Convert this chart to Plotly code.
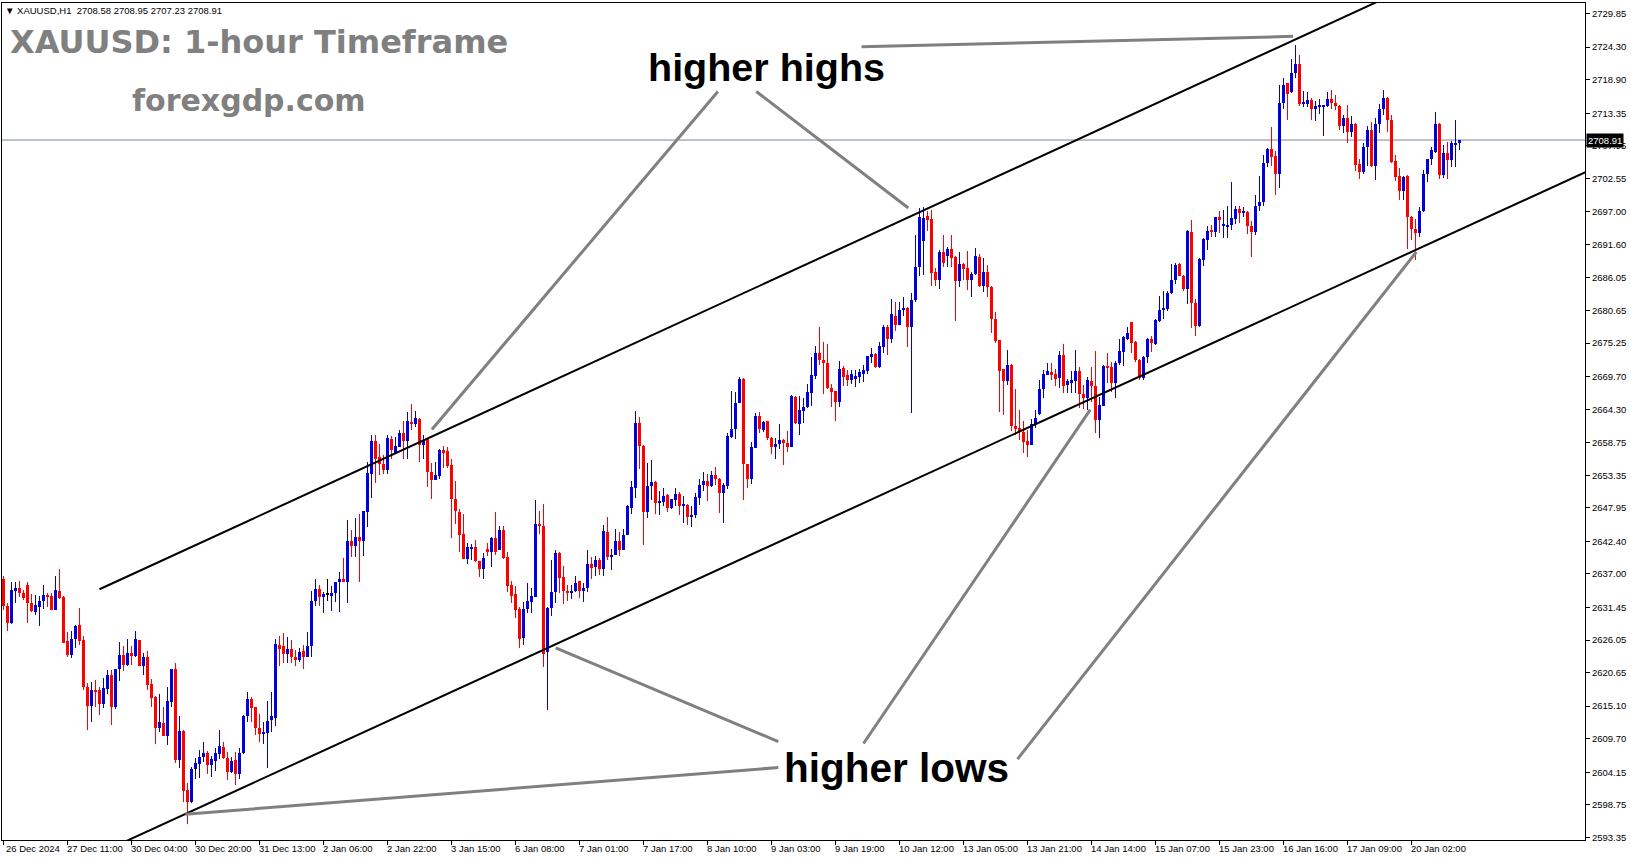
import plotly.graph_objects as go

# ---------------- data ----------------
open_ = [
    2636.1, 2631.7, 2628.8, 2634.2, 2634.6, 2633.9, 2635.2, 2632.2, 2630.7, 2631.6,
    2632.5, 2633.5, 2633.4, 2631.1, 2634.1, 2633.1, 2625.9, 2623.6, 2626.2, 2628.5,
    2626.1, 2618.3, 2615.2, 2617.8, 2617.7, 2615.4, 2617.9, 2620.2, 2614.9, 2621.2,
    2623.5, 2621.9, 2623.9, 2623.4, 2626.0, 2621.8, 2623.3, 2618.7, 2616.6, 2611.4,
    2612.3, 2610.2, 2615.8, 2621.2, 2606.2, 2611.0, 2601.2, 2599.2, 2604.7, 2605.5,
    2606.7, 2607.4, 2605.3, 2606.0, 2607.2, 2608.4, 2606.5, 2604.2, 2606.1, 2603.9,
    2607.3, 2613.4, 2616.3, 2614.9, 2611.4, 2610.5, 2610.6, 2612.8, 2613.2, 2625.3,
    2625.0, 2623.8, 2624.5, 2623.2, 2622.7, 2624.2, 2623.3, 2625.0, 2632.6, 2634.5,
    2633.2, 2633.6, 2633.5, 2633.8, 2635.6, 2636.2, 2635.6, 2642.5, 2641.7, 2643.1,
    2642.5, 2647.2, 2653.6, 2659.0, 2656.4, 2655.3, 2654.3, 2659.3, 2657.1, 2658.1,
    2660.4, 2659.0, 2662.1, 2661.9, 2662.7, 2658.4, 2659.3, 2653.9, 2652.6, 2653.3,
    2657.5, 2657.4, 2655.0, 2649.5, 2647.3, 2643.6, 2639.5, 2641.3, 2641.5, 2639.1,
    2637.9, 2641.2, 2640.7, 2643.0, 2641.0, 2644.3, 2639.8, 2635.1, 2633.6, 2631.2,
    2626.4, 2631.2, 2632.4, 2633.2, 2645.2, 2644.9, 2624.0, 2631.3, 2634.0, 2640.4,
    2636.5, 2634.2, 2633.9, 2634.1, 2635.8, 2634.2, 2634.6, 2638.6, 2638.1, 2639.3,
    2637.8, 2644.0, 2639.8, 2640.2, 2642.4, 2641.0, 2643.5, 2648.0, 2651.2, 2662.0,
    2658.2, 2647.3, 2651.5, 2652.3, 2648.7, 2649.0, 2650.1, 2647.9, 2649.3, 2650.2,
    2648.4, 2648.5, 2646.5, 2646.7, 2649.6, 2651.7, 2652.4, 2651.5, 2653.4, 2652.8,
    2650.4, 2651.6, 2659.7, 2661.1, 2665.4, 2669.3, 2655.2, 2652.8, 2657.9, 2663.1,
    2660.9, 2662.3, 2659.6, 2658.1, 2658.5, 2659.2, 2658.7, 2658.1, 2666.4, 2661.8,
    2664.0, 2664.6, 2667.0, 2669.8, 2673.7, 2672.4, 2672.0, 2667.9, 2667.3, 2665.5,
    2671.2, 2669.9, 2669.2, 2669.3, 2669.7, 2670.1, 2670.7, 2673.0, 2673.4, 2671.3,
    2674.6, 2678.0, 2675.9, 2679.8, 2678.3, 2680.7, 2681.1, 2678.0, 2682.4, 2687.9,
    2692.2, 2696.3, 2695.9, 2687.0, 2685.7, 2690.3, 2689.7, 2690.9, 2689.6, 2685.5,
    2688.3, 2687.7, 2685.7, 2686.7, 2689.6, 2684.7, 2687.0, 2684.6, 2679.3, 2675.7,
    2670.9, 2668.9, 2671.7, 2661.5, 2661.2, 2660.6, 2659.1, 2658.4, 2661.9, 2663.5,
    2667.6, 2670.0, 2670.4, 2670.1, 2669.4, 2673.3, 2668.3, 2668.8, 2668.9, 2670.7,
    2666.9, 2666.2, 2669.0, 2668.1, 2662.5, 2664.9, 2671.4, 2671.3, 2668.6, 2672.0,
    2673.8, 2676.0, 2678.7, 2675.4, 2672.5, 2669.4, 2672.9, 2675.9, 2675.1, 2678.9,
    2680.8, 2680.9, 2683.5, 2685.7, 2688.4, 2686.4, 2684.2, 2693.7, 2681.9, 2678.1,
    2689.1, 2692.4, 2693.9, 2693.7, 2696.1, 2694.7, 2694.6, 2694.9, 2695.9, 2697.4,
    2696.9, 2697.0, 2694.7, 2693.7, 2698.0, 2698.7, 2705.1, 2707.5, 2706.2, 2703.3,
    2715.0, 2718.3, 2716.8, 2720.1, 2721.5, 2714.9, 2714.8, 2715.6, 2714.1, 2714.4,
    2714.5, 2714.5, 2715.7, 2715.1, 2714.6, 2711.3, 2712.6, 2710.3, 2711.6, 2705.0,
    2703.6, 2707.8, 2710.6, 2704.6, 2711.5, 2714.0, 2715.9, 2712.3, 2705.4, 2702.9,
    2700.4, 2702.9, 2696.2, 2694.2, 2693.5, 2697.2, 2703.3, 2705.7, 2707.0, 2711.6,
    2703.1, 2706.7, 2705.6, 2708.2, 2708.58,
]

high = [
    2636.6, 2632.2, 2635.6, 2635.6, 2635.8, 2634.4, 2635.6, 2633.6, 2633.5, 2633.4,
    2635.1, 2633.9, 2633.8, 2636.7, 2637.8, 2633.3, 2627.3, 2627.6, 2628.6, 2631.4,
    2626.8, 2619.0, 2619.1, 2619.4, 2618.2, 2619.8, 2621.1, 2621.1, 2621.3, 2625.7,
    2625.0, 2626.3, 2625.0, 2627.6, 2626.1, 2623.9, 2624.2, 2619.6, 2616.7, 2617.1,
    2614.9, 2618.2, 2621.3, 2622.2, 2613.4, 2611.2, 2602.4, 2605.0, 2606.5, 2607.8,
    2609.1, 2607.6, 2606.9, 2608.1, 2611.2, 2609.2, 2607.5, 2606.6, 2607.5, 2608.2,
    2613.7, 2617.5, 2616.6, 2615.0, 2613.8, 2612.4, 2615.9, 2617.5, 2626.2, 2626.8,
    2627.2, 2626.6, 2626.1, 2624.4, 2624.7, 2625.2, 2627.4, 2634.2, 2636.2, 2635.2,
    2634.0, 2636.2, 2635.0, 2635.7, 2637.4, 2639.7, 2646.0, 2644.3, 2646.2, 2647.0,
    2647.5, 2655.5, 2660.0, 2660.0, 2658.6, 2656.7, 2660.0, 2659.9, 2659.7, 2660.8,
    2662.3, 2663.9, 2665.2, 2664.0, 2662.8, 2660.0, 2659.4, 2655.4, 2655.5, 2657.7,
    2658.2, 2658.1, 2656.0, 2652.4, 2647.8, 2647.0, 2642.1, 2642.0, 2642.7, 2639.2,
    2640.5, 2642.1, 2643.1, 2647.2, 2645.0, 2644.9, 2640.7, 2635.8, 2635.0, 2631.6,
    2632.3, 2635.5, 2634.7, 2649.2, 2647.5, 2648.6, 2631.5, 2639.3, 2641.0, 2640.7,
    2638.3, 2635.1, 2635.1, 2636.7, 2635.9, 2635.5, 2641.0, 2639.8, 2639.9, 2639.6,
    2645.1, 2646.4, 2641.2, 2644.5, 2643.9, 2644.5, 2648.4, 2652.4, 2664.0, 2663.0,
    2658.3, 2655.4, 2655.9, 2652.4, 2650.8, 2651.3, 2650.3, 2649.5, 2651.3, 2650.5,
    2650.0, 2648.6, 2648.2, 2650.4, 2652.8, 2653.9, 2653.5, 2654.1, 2654.8, 2652.9,
    2652.0, 2660.3, 2667.3, 2667.2, 2669.7, 2669.5, 2655.3, 2658.9, 2663.7, 2663.9,
    2662.4, 2662.4, 2659.7, 2659.6, 2661.8, 2659.3, 2660.7, 2666.7, 2666.5, 2666.5,
    2666.1, 2668.4, 2673.0, 2674.8, 2677.9, 2675.4, 2675.1, 2668.4, 2667.4, 2672.3,
    2671.5, 2670.8, 2670.8, 2670.8, 2670.9, 2671.7, 2673.2, 2674.5, 2673.6, 2675.5,
    2678.3, 2678.2, 2682.5, 2682.0, 2682.1, 2682.9, 2681.2, 2683.6, 2693.2, 2697.6,
    2697.8, 2697.1, 2697.3, 2687.7, 2690.7, 2693.2, 2691.2, 2693.2, 2689.7, 2690.4,
    2688.6, 2690.5, 2687.0, 2691.1, 2690.0, 2689.4, 2688.2, 2684.7, 2680.4, 2675.8,
    2671.0, 2674.1, 2671.8, 2667.6, 2664.1, 2662.3, 2660.8, 2662.6, 2664.1, 2669.2,
    2670.8, 2672.0, 2672.0, 2670.9, 2673.9, 2675.1, 2669.3, 2670.7, 2674.1, 2671.3,
    2668.3, 2669.6, 2671.3, 2673.9, 2666.4, 2671.7, 2673.7, 2672.2, 2672.3, 2676.0,
    2676.5, 2677.9, 2678.8, 2675.6, 2672.7, 2673.1, 2676.1, 2676.5, 2679.2, 2683.1,
    2683.9, 2683.9, 2688.3, 2688.6, 2688.6, 2686.6, 2694.0, 2695.6, 2682.6, 2689.4,
    2692.7, 2694.7, 2694.8, 2696.2, 2697.2, 2697.3, 2698.0, 2702.0, 2698.0, 2698.0,
    2697.8, 2697.2, 2695.5, 2699.8, 2703.0, 2706.5, 2707.6, 2711.0, 2707.1, 2718.0,
    2719.2, 2718.4, 2722.4, 2724.6, 2723.0, 2717.0, 2716.8, 2715.8, 2715.4, 2715.7,
    2714.7, 2716.9, 2717.2, 2716.4, 2714.7, 2713.1, 2714.7, 2712.9, 2711.7, 2705.7,
    2708.5, 2711.2, 2711.9, 2712.5, 2714.8, 2717.2, 2716.1, 2713.1, 2706.5, 2704.2,
    2703.0, 2703.1, 2696.3, 2695.8, 2697.8, 2704.0, 2705.8, 2707.8, 2713.6, 2711.7,
    2708.1, 2708.6, 2708.7, 2712.3, 2708.95,
]

low = [
    2631.0, 2627.6, 2628.7, 2632.2, 2633.1, 2632.7, 2628.8, 2630.7, 2630.2, 2628.4,
    2631.2, 2631.5, 2631.0, 2631.0, 2632.8, 2625.5, 2623.2, 2623.1, 2624.8, 2625.3,
    2617.7, 2611.2, 2612.5, 2614.9, 2613.6, 2614.8, 2617.1, 2612.0, 2614.7, 2619.3,
    2620.9, 2621.7, 2621.9, 2623.3, 2621.7, 2620.2, 2617.8, 2615.0, 2608.8, 2610.8,
    2610.1, 2608.6, 2614.9, 2605.6, 2604.8, 2599.2, 2595.6, 2599.1, 2603.1, 2603.2,
    2605.9, 2603.8, 2603.3, 2604.3, 2606.4, 2606.3, 2602.9, 2604.0, 2602.1, 2603.0,
    2607.2, 2612.5, 2612.5, 2610.3, 2609.1, 2608.9, 2604.9, 2610.8, 2611.8, 2621.8,
    2622.3, 2622.2, 2622.3, 2621.7, 2622.4, 2621.2, 2623.2, 2623.3, 2631.7, 2631.7,
    2630.5, 2632.6, 2630.8, 2632.4, 2630.7, 2635.6, 2632.2, 2639.8, 2639.8, 2635.7,
    2640.0, 2644.8, 2649.6, 2652.1, 2653.4, 2653.6, 2653.6, 2656.0, 2657.0, 2658.0,
    2656.1, 2656.1, 2660.8, 2661.3, 2655.6, 2656.1, 2651.4, 2649.5, 2652.5, 2652.7,
    2654.5, 2654.5, 2643.0, 2645.2, 2640.6, 2639.4, 2638.7, 2639.3, 2639.0, 2636.5,
    2636.1, 2639.9, 2638.1, 2640.1, 2640.9, 2639.5, 2634.0, 2632.2, 2629.7, 2624.7,
    2625.3, 2630.6, 2630.5, 2633.1, 2643.7, 2621.5, 2614.4, 2630.0, 2632.2, 2633.8,
    2632.1, 2632.6, 2632.9, 2634.0, 2633.0, 2632.4, 2634.0, 2636.2, 2636.7, 2636.9,
    2636.7, 2639.3, 2637.7, 2640.1, 2639.9, 2640.9, 2643.4, 2647.0, 2649.6, 2654.4,
    2641.8, 2646.2, 2649.3, 2646.9, 2646.7, 2648.2, 2647.3, 2647.7, 2648.3, 2646.7,
    2645.4, 2645.1, 2644.8, 2646.3, 2648.4, 2650.7, 2649.1, 2651.4, 2651.7, 2647.1,
    2645.4, 2651.0, 2659.6, 2659.4, 2665.3, 2649.2, 2651.3, 2651.9, 2657.8, 2660.3,
    2660.6, 2659.2, 2656.9, 2656.1, 2657.7, 2655.0, 2657.2, 2658.0, 2661.8, 2660.0,
    2662.0, 2664.5, 2664.8, 2669.3, 2671.6, 2666.9, 2667.6, 2664.6, 2662.3, 2664.6,
    2668.2, 2668.2, 2668.5, 2668.0, 2668.6, 2668.8, 2670.1, 2671.9, 2671.2, 2671.2,
    2673.7, 2673.3, 2675.3, 2677.3, 2678.2, 2679.7, 2674.6, 2663.7, 2682.1, 2686.4,
    2686.5, 2693.8, 2684.7, 2684.7, 2684.3, 2687.9, 2687.8, 2687.9, 2678.9, 2684.6,
    2685.7, 2684.0, 2682.9, 2686.5, 2684.6, 2683.7, 2682.9, 2677.0, 2675.2, 2663.9,
    2663.4, 2668.3, 2660.7, 2660.0, 2659.2, 2657.1, 2656.4, 2658.3, 2661.2, 2663.4,
    2666.1, 2669.9, 2669.2, 2668.2, 2667.9, 2667.0, 2667.0, 2667.0, 2667.0, 2664.5,
    2664.3, 2664.2, 2665.5, 2660.4, 2659.6, 2664.8, 2668.6, 2667.1, 2666.2, 2671.6,
    2671.5, 2675.8, 2673.7, 2672.2, 2669.2, 2669.2, 2671.9, 2673.8, 2675.0, 2678.8,
    2679.3, 2680.5, 2683.4, 2685.0, 2686.3, 2683.9, 2681.8, 2677.8, 2676.4, 2678.0,
    2688.1, 2690.7, 2692.8, 2692.9, 2693.5, 2692.7, 2692.7, 2694.0, 2695.0, 2695.1,
    2696.1, 2693.4, 2689.6, 2693.1, 2697.1, 2698.0, 2704.4, 2704.6, 2699.8, 2701.0,
    2714.0, 2712.2, 2716.7, 2719.2, 2714.5, 2714.4, 2714.4, 2712.3, 2712.0, 2713.2,
    2709.6, 2714.4, 2714.1, 2713.9, 2710.6, 2710.0, 2708.5, 2709.4, 2703.8, 2702.4,
    2703.2, 2704.6, 2704.5, 2702.3, 2710.0, 2713.1, 2710.2, 2705.1, 2702.2, 2699.0,
    2699.0, 2690.8, 2692.4, 2689.1, 2692.9, 2697.0, 2702.0, 2704.7, 2706.7, 2702.5,
    2702.6, 2702.5, 2704.4, 2704.5, 2707.23,
]

close = [
    2631.7, 2628.8, 2634.4, 2634.6, 2633.8, 2633.0, 2632.2, 2630.8, 2631.9, 2632.5,
    2633.5, 2633.2, 2631.1, 2634.3, 2633.0, 2625.6, 2623.5, 2626.3, 2628.4, 2625.9,
    2618.2, 2615.2, 2617.8, 2617.5, 2615.4, 2618.1, 2620.2, 2614.9, 2621.2, 2623.5,
    2621.9, 2623.9, 2623.4, 2626.2, 2621.8, 2623.3, 2618.6, 2616.5, 2611.4, 2612.4,
    2610.2, 2615.9, 2621.2, 2606.1, 2611.0, 2601.0, 2599.2, 2604.7, 2605.6, 2606.7,
    2607.4, 2605.4, 2606.3, 2607.3, 2608.5, 2606.5, 2604.2, 2606.0, 2603.9, 2607.4,
    2613.5, 2616.3, 2614.8, 2611.4, 2610.5, 2610.8, 2612.7, 2613.5, 2625.4, 2624.6,
    2623.8, 2624.5, 2623.3, 2622.7, 2624.0, 2623.3, 2625.0, 2632.6, 2634.5, 2633.2,
    2633.6, 2633.6, 2633.8, 2635.6, 2636.2, 2635.7, 2642.5, 2641.7, 2643.1, 2642.5,
    2647.4, 2653.7, 2659.0, 2656.0, 2655.3, 2654.3, 2659.5, 2657.6, 2658.2, 2660.4,
    2659.0, 2662.3, 2661.9, 2662.8, 2658.4, 2659.2, 2653.9, 2652.6, 2653.4, 2657.6,
    2657.2, 2654.9, 2649.4, 2647.5, 2643.4, 2639.5, 2641.4, 2641.5, 2639.1, 2637.9,
    2639.7, 2640.7, 2643.0, 2640.7, 2644.3, 2639.6, 2635.0, 2633.4, 2631.0, 2626.3,
    2631.2, 2632.5, 2633.3, 2645.2, 2645.0, 2623.8, 2631.3, 2634.0, 2640.4, 2636.4,
    2634.1, 2633.9, 2634.2, 2635.5, 2634.1, 2634.6, 2638.6, 2638.0, 2639.3, 2637.8,
    2644.1, 2639.8, 2640.2, 2642.4, 2641.0, 2643.5, 2648.3, 2651.4, 2662.0, 2658.2,
    2647.3, 2651.5, 2652.3, 2648.7, 2649.1, 2650.0, 2647.9, 2649.4, 2650.2, 2648.3,
    2648.6, 2646.4, 2646.7, 2649.7, 2651.8, 2652.4, 2651.6, 2653.4, 2652.8, 2650.4,
    2651.7, 2659.9, 2661.1, 2665.4, 2669.3, 2655.2, 2652.8, 2658.0, 2663.1, 2661.0,
    2662.2, 2659.6, 2658.1, 2658.6, 2659.2, 2658.7, 2658.1, 2666.5, 2662.0, 2664.2,
    2664.6, 2667.1, 2670.0, 2673.7, 2672.4, 2671.9, 2667.8, 2667.2, 2665.5, 2671.0,
    2669.7, 2669.2, 2670.1, 2669.8, 2670.4, 2670.8, 2673.1, 2673.4, 2671.3, 2674.8,
    2678.0, 2675.9, 2680.0, 2678.3, 2680.7, 2681.1, 2678.0, 2682.4, 2687.9, 2696.2,
    2696.0, 2695.6, 2686.9, 2685.7, 2690.3, 2688.5, 2690.9, 2689.4, 2685.5, 2688.3,
    2687.6, 2685.7, 2686.7, 2689.7, 2684.7, 2687.0, 2684.5, 2679.2, 2675.6, 2670.7,
    2668.9, 2671.7, 2661.5, 2661.1, 2660.5, 2658.8, 2658.4, 2661.9, 2662.8, 2667.6,
    2670.1, 2670.6, 2670.0, 2669.3, 2673.3, 2668.2, 2668.9, 2669.1, 2670.7, 2666.8,
    2666.2, 2669.1, 2668.1, 2662.5, 2665.0, 2671.4, 2671.2, 2668.6, 2672.0, 2673.9,
    2676.2, 2677.0, 2675.2, 2672.4, 2669.5, 2673.0, 2675.9, 2675.3, 2679.1, 2680.8,
    2681.0, 2683.5, 2685.7, 2688.2, 2686.4, 2684.2, 2693.8, 2681.9, 2678.1, 2689.2,
    2692.5, 2693.8, 2693.7, 2696.1, 2695.8, 2694.8, 2694.9, 2696.0, 2697.4, 2696.8,
    2697.0, 2694.6, 2693.7, 2698.0, 2698.7, 2705.1, 2707.5, 2706.1, 2703.3, 2715.1,
    2718.1, 2716.6, 2720.1, 2721.5, 2714.9, 2715.0, 2715.6, 2714.0, 2714.5, 2714.6,
    2714.6, 2715.7, 2715.0, 2714.5, 2711.3, 2712.6, 2710.2, 2711.6, 2704.8, 2703.6,
    2707.8, 2710.6, 2704.6, 2711.5, 2714.0, 2715.9, 2712.3, 2705.3, 2702.8, 2700.4,
    2702.8, 2696.2, 2694.1, 2693.5, 2697.2, 2703.3, 2705.7, 2707.2, 2711.6, 2703.1,
    2706.7, 2705.6, 2708.4, 2708.5, 2708.91,
]

bar_index = list(range(1, len(close) + 1))

tick_index = [1, 17, 33, 49, 65, 81, 97, 113, 129, 145, 161, 177, 193, 209, 225,
              241, 257, 273, 289, 305, 321, 337, 353]
tick_labels = ["26 Dec 2024", "27 Dec 11:00", "30 Dec 04:00", "30 Dec 20:00",
               "31 Dec 13:00", "2 Jan 06:00", "2 Jan 22:00", "3 Jan 15:00",
               "6 Jan 08:00", "7 Jan 01:00", "7 Jan 17:00", "8 Jan 10:00",
               "9 Jan 03:00", "9 Jan 19:00", "10 Jan 12:00", "13 Jan 05:00",
               "13 Jan 21:00", "14 Jan 14:00", "15 Jan 07:00", "15 Jan 23:00",
               "16 Jan 16:00", "17 Jan 09:00", "20 Jan 02:00"]

price_ticks = [2729.85, 2724.30, 2718.90, 2713.35, 2707.95, 2702.55, 2697.00,
               2691.60, 2686.05, 2680.65, 2675.25, 2669.70, 2664.30, 2658.75,
               2653.35, 2647.95, 2642.40, 2637.00, 2631.45, 2626.05, 2620.65,
               2615.10, 2609.70, 2604.15, 2598.75, 2593.35]

last_price = 2708.91
header_ohlc = "XAUUSD,H1\u00a0\u00a02708.58 2708.95 2707.23 2708.91"

# channel lines (bar index, price)
upper_trend_x = [25.0, 350.0]
upper_trend_y = [2634.46, 2733.52]
lower_trend_x = [30.0, 400.0]
lower_trend_y = [2592.22, 2704.66]

# callout lines (bar index, price)
callouts = [
    ([215.5, 323.4], [2724.36, 2726.09]),
    ([179.6, 108.1], [2716.96, 2660.94]),
    ([189.2, 227.2], [2716.96, 2697.65]),
    ([139.05, 194.7], [2624.76, 2609.22]),
    ([216.0, 272.7], [2608.90, 2664.22]),
    ([254.5, 354.2], [2606.32, 2690.36]),
    ([46.5, 194.7], [2597.18, 2604.91]),
]

# ---------------- layout geometry ----------------
W, H = 1631, 861
ML, MR, MT, MB = 2, 46, 3, 21
PW = W - ML - MR
PH = H - MT - MB


def paper_x(px):
    return (px - ML) / PW


def paper_y(py):
    return 1 - (py - MT) / PH


BLUE = "#0000d8"
RED = "#ff0000"
colors = ["#000000" if c == o else (BLUE if c > o else RED) for o, c in zip(open_, close)]
wick_base = [min(l, o, c) for o, l, c in zip(open_, low, close)]
wick_len = [max(h, o, c) - b for o, h, c, b in zip(open_, high, close, wick_base)]
body_base = [min(o, c) for o, c in zip(open_, close)]
body_len = [max(abs(c - o), 0.17) for o, c in zip(open_, close)]

fig = go.Figure()

fig.add_trace(go.Bar(x=bar_index, y=wick_len, base=wick_base, width=0.25,
                     marker=dict(color=colors, line=dict(width=0)), hoverinfo="skip"))
fig.add_trace(go.Bar(x=bar_index, y=body_len, base=body_base, width=0.75,
                     marker=dict(color=colors, line=dict(width=0)), hoverinfo="skip"))

fig.add_trace(go.Scatter(x=upper_trend_x, y=upper_trend_y, mode="lines",
                         line=dict(color="black", width=2), hoverinfo="skip"))
fig.add_trace(go.Scatter(x=lower_trend_x, y=lower_trend_y, mode="lines",
                         line=dict(color="black", width=2), hoverinfo="skip"))
for cx, cy in callouts:
    fig.add_trace(go.Scatter(x=cx, y=cy, mode="lines",
                             line=dict(color="#808080", width=3), hoverinfo="skip"))

fig.add_shape(type="line", xref="paper", yref="y", x0=0, x1=1, y0=last_price, y1=last_price,
              line=dict(color="#778899", width=1), layer="below")

TICKFONT = dict(family="Liberation Sans, Arial, sans-serif", size=9.5, color="black")

annotations = []
for k, (ti, tl) in enumerate(zip(tick_index, tick_labels)):
    annotations.append(dict(x=ti, y=0, xref="x", yref="paper", text=tl, showarrow=False,
                            xanchor="left", yanchor="top", xshift=(0 if k == 0 else -3),
                            yshift=-1, font=TICKFONT))

annotations.append(dict(x=1, y=last_price, xref="paper", yref="y", text="2708.91",
                        showarrow=False, xanchor="left", yanchor="middle", xshift=1,
                        bgcolor="black", borderpad=1,
                        font=dict(family="Liberation Sans, Arial, sans-serif", size=9.5, color="white")))

annotations.append(dict(x=paper_x(3), y=paper_y(10), xref="paper", yref="paper",
                        text="\u25bc " + header_ohlc, showarrow=False,
                        xanchor="left", yanchor="middle", font=TICKFONT))

annotations.append(dict(x=paper_x(8), y=paper_y(42), xref="paper", yref="paper",
                        text="<b>XAUUSD: 1-hour Timeframe</b>", showarrow=False,
                        xanchor="left", yanchor="middle",
                        font=dict(family="DejaVu Sans, sans-serif", size=32, color="#808080")))
annotations.append(dict(x=paper_x(130), y=paper_y(101), xref="paper", yref="paper",
                        text="<b>forexgdp.com</b>", showarrow=False,
                        xanchor="left", yanchor="middle",
                        font=dict(family="DejaVu Sans, sans-serif", size=30, color="#808080")))
annotations.append(dict(x=paper_x(646), y=paper_y(67), xref="paper", yref="paper",
                        text="<b>higher highs</b>", showarrow=False,
                        xanchor="left", yanchor="middle",
                        font=dict(family="Liberation Sans, Arial, sans-serif", size=39.5, color="black")))
annotations.append(dict(x=paper_x(782), y=paper_y(768), xref="paper", yref="paper",
                        text="<b>higher lows</b>", showarrow=False,
                        xanchor="left", yanchor="middle",
                        font=dict(family="Liberation Sans, Arial, sans-serif", size=40.5, color="black")))

fig.update_layout(
    width=W, height=H,
    margin=dict(l=ML, r=MR, t=MT, b=MB, pad=0),
    paper_bgcolor="white", plot_bgcolor="white",
    barmode="overlay", bargap=0,
    showlegend=False,
    annotations=annotations,
    xaxis=dict(range=[0.625, 396.375], showgrid=False, zeroline=False,
               showline=True, mirror=True, linecolor="black", linewidth=1,
               ticks="outside", ticklen=4, tickcolor="black", tickwidth=1,
               tickmode="array", tickvals=tick_index, showticklabels=False,
               fixedrange=True),
    yaxis=dict(range=[2592.91, 2731.62], side="right", showgrid=False, zeroline=False,
               showline=True, mirror=True, linecolor="black", linewidth=1,
               ticks="outside", ticklen=4, tickcolor="black", tickwidth=1,
               tickmode="array", tickvals=price_ticks,
               ticktext=["%.2f" % v for v in price_ticks],
               tickfont=TICKFONT, fixedrange=True),
)

fig.write_html("out.html", config={"displayModeBar": False},
               post_script="document.body.style.margin='0px';document.body.style.overflow='hidden';")
